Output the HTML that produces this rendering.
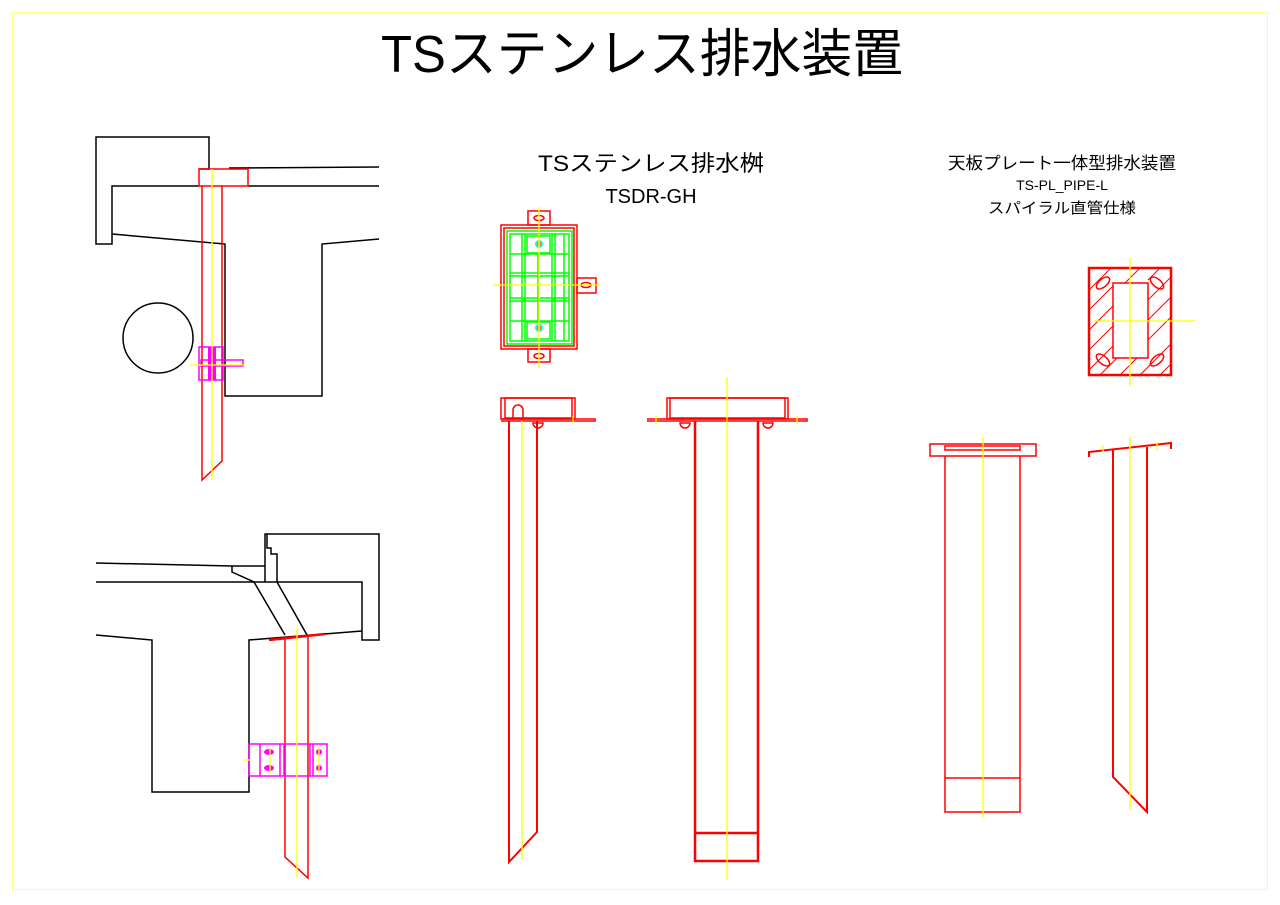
<!DOCTYPE html>
<html><head><meta charset="utf-8"><style>
html,body{margin:0;padding:0;background:#fff;width:1280px;height:905px;overflow:hidden}
text{font-family:"Liberation Sans","Noto Sans CJK JP",sans-serif;fill:#000}
</style></head><body>
<svg width="1280" height="905" viewBox="0 0 1280 905" xmlns="http://www.w3.org/2000/svg">
<rect x="12.5" y="12.5" width="1255" height="877" fill="none" stroke="#ffff80" stroke-width="1"/>
<text x="642" y="72" font-size="52" text-anchor="middle" textLength="522" lengthAdjust="spacingAndGlyphs">TSステンレス排水装置</text>
<text x="651" y="171" font-size="22" text-anchor="middle" textLength="226" lengthAdjust="spacingAndGlyphs">TSステンレス排水桝</text>
<text x="651" y="203" font-size="20" text-anchor="middle">TSDR-GH</text>
<text x="1062" y="169" font-size="17" text-anchor="middle" textLength="228" lengthAdjust="spacingAndGlyphs">天板プレート一体型排水装置</text>
<text x="1062" y="190" font-size="14" text-anchor="middle">TS-PL_PIPE-L</text>
<text x="1062" y="213" font-size="15" text-anchor="middle" textLength="148" lengthAdjust="spacingAndGlyphs">スパイラル直管仕様</text>

<g fill="none" stroke="#000" stroke-width="1.5">
<path d="M199 169 L209 169 L209 137 L96 137 L96 244 L112 244 L112 186 L199 186"/>
<path d="M229 168 L379 167 M248 186 L379 186"/>
<path d="M112 234 L225 244 L225 396 L322 396 L322 244 L379 239"/>
<circle cx="158" cy="338" r="35"/>
<path d="M96 582 L362 582 L362 640 L379 640 L379 534 L265 534 L265 582"/>
<path d="M267 534 L267 548 L271 548 L271 554 L277 554 L277 582"/>
<path d="M96 563 L232 566 L265 566 M232 566 L232 572 L254 582 L285 635 M277 582 L307 635"/>
<path d="M96 635 L152 640 L152 792 L249 792 L249 640 L362 631"/>
</g>

<g fill="none" stroke="#f00" stroke-width="1.5">
<rect x="199" y="169" width="49" height="17"/>
<path d="M202 186 L202 480 L222 461 L222 186"/>
<path d="M285 637 L285 857 L308 878 L308 636"/>
<path d="M269 640 L325 634" stroke-width="2.5"/>
<!-- middle top view -->
<rect x="501" y="225" width="76" height="124"/>
<rect x="504" y="228" width="70" height="118"/>
<rect x="528" y="211" width="22" height="14"/>
<rect x="528" y="349" width="22" height="13"/>
<rect x="577" y="278" width="19" height="15"/>
<ellipse cx="539" cy="218" rx="5" ry="2.5"/><ellipse cx="539" cy="356" rx="5" ry="2.5"/><ellipse cx="586" cy="285" rx="5" ry="2.5"/>
<!-- pipe1 -->
<rect x="501" y="398" width="74" height="21"/>
<rect x="505" y="398" width="67" height="20"/>
<path d="M501 419 L595 419 L595 421 L501 421"/>
<path d="M513 418 L513 410 A5 5 0 0 1 523 410 L523 418"/>
<path d="M509 421 L509 862 L537 832 L537 421" stroke-width="2"/>
<path d="M533 423 A5 5 0 0 0 543 423 Z"/>
<!-- pipe2 -->
<rect x="667" y="398" width="121" height="21"/>
<rect x="670" y="398" width="115" height="20"/>
<path d="M647 419 L807 419 L807 421 L647 421"/>
<path d="M695 421 L695 861 L758 861 L758 421 M695 833 L758 833" stroke-width="2.5"/>
<path d="M680 423 A5 5 0 0 0 690 423 Z M763 423 A5 5 0 0 0 773 423 Z"/>
<!-- right top view -->
<rect x="1089" y="268" width="82" height="107" stroke-width="2.5"/>
<rect x="1113" y="283" width="35" height="75"/>
<g stroke-width="1">
<path d="M1089 290 L1111 268 M1089 310 L1113 286 M1089 330 L1113 306 M1089 350 L1113 326 M1089 370 L1113 346 M1100 375 L1117 358 M1120 375 L1137 358 M1140 375 L1171 344 M1160 375 L1171 364 M1148 340 L1171 317 M1148 320 L1171 297 M1148 300 L1171 277 M1148 280 L1160 268 M1125 283 L1140 268 M1148 283 L1148 283"/>
</g>
<ellipse cx="1103" cy="283" rx="8" ry="4" transform="rotate(-40 1103 283)"/>
<ellipse cx="1157" cy="283" rx="8" ry="4" transform="rotate(40 1157 283)"/>
<ellipse cx="1103" cy="360" rx="8" ry="4" transform="rotate(40 1103 360)"/>
<ellipse cx="1157" cy="360" rx="8" ry="4" transform="rotate(-40 1157 360)"/>
<!-- pipe3 -->
<rect x="930" y="444" width="106" height="12"/>
<rect x="945" y="446" width="75" height="4"/>
<path d="M945 456 L945 812 L1020 812 L1020 456 M945 778 L1020 778"/>
<!-- pipe4 -->
<path d="M1089 457 L1089 452 L1171 443 L1171 449" stroke-width="2"/>
<path d="M1113 450 L1113 777 L1147 812 L1147 447" stroke-width="2"/>
</g>

<!-- green grid -->
<g fill="none" stroke="#0f0" stroke-width="1.5">
<rect x="507" y="231" width="65" height="113"/>
<rect x="510" y="234" width="59" height="107"/>
<path d="M510 254 L569 254 M510 273 L569 273 M510 276 L569 276 M510 298 L569 298 M510 301 L569 301 M510 321 L569 321"/>
<path d="M522 234 L522 341 M525 234 L525 341 M538 254 L538 321 M552 234 L552 341 M555 234 L555 341 M564 234 L564 341"/>
<rect x="527" y="236" width="23" height="17" fill="#fff"/>
<rect x="527" y="322" width="23" height="17" fill="#fff"/>
</g>
<circle cx="539" cy="244" r="4" fill="#0ff"/><circle cx="539" cy="328" r="4" fill="#0ff"/>
<circle cx="539" cy="244" r="2.5" fill="#f80"/><circle cx="539" cy="328" r="2.5" fill="#f80"/>

<!-- magenta -->
<g fill="none" stroke="#f0f" stroke-width="1.5">
<rect x="199" y="347" width="24" height="33"/>
<rect x="201" y="360" width="42" height="6"/>
<rect x="249" y="744" width="78" height="32"/>
<path d="M260 744 L260 776 M280 744 L280 776 M284 744 L284 776 M310 744 L310 776 M313 744 L313 776"/>
</g>
<rect x="208" y="347" width="8" height="33" fill="#f0f"/>
<g fill="#f0f"><ellipse cx="269" cy="752" rx="5" ry="3"/><ellipse cx="269" cy="768" rx="5" ry="3"/><ellipse cx="319" cy="752" rx="3" ry="3"/><ellipse cx="319" cy="768" rx="3" ry="3"/></g>

<!-- yellow centerlines -->
<g stroke="#ff0" stroke-width="1.3" fill="none">
<path d="M212 169 L212 480 M190 365 L245 365"/>
<path d="M297 628 L297 877 M244 760 L250 760 M270 747 L270 773 M319 747 L319 773"/>
<path d="M539 207 L539 368 M493 285 L600 285"/>
<path d="M522 421 L522 860 M573 416 L573 424"/>
<path d="M727 377 L727 880 M656 416 L656 424 M797 416 L797 424"/>
<path d="M1130 258 L1130 386 M1094 321 L1196 321"/>
<path d="M983 437 L983 817"/>
<path d="M1130 437 L1130 810 M1103 445 L1103 452 M1157 442 L1157 450"/>
</g>
</svg>
</body></html>
